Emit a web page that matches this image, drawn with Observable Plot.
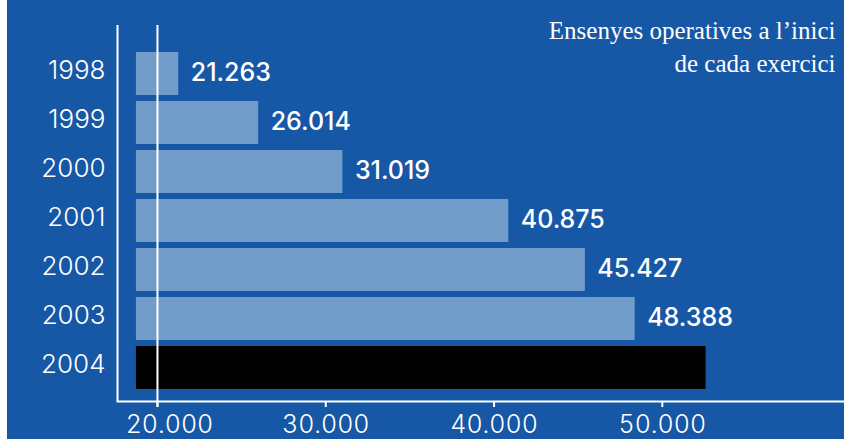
<!DOCTYPE html>
<html><head><meta charset="utf-8">
<script src="https://cdn.jsdelivr.net/npm/d3@7"></script>
<script src="https://cdn.jsdelivr.net/npm/@observablehq/plot@0.6"></script>
<style>
html,body{margin:0;padding:0;background:#fff;}
#chart{width:844px;height:439px;}
#chart svg{display:block;}
</style></head><body><div id="chart"></div>
<script>
const years = ["1998","1999","2000","2001","2002","2003","2004"];
const values = [21263, 26014, 31019, 40875, 45427, 48388, 52600];
const valueLabels = ["21.263","26.014","31.019","40.875","45.427","48.388",""];
const xTicks = [20000, 30000, 40000, 50000];
const highlightYear = "2004";
const barBase = 18750;
const axisMin = 17625;
const axisMax = 60826;
const titleText = "Ensenyes operatives a l’inici\nde cada exercici";

const data = years.map((y, i) => ({year: y, value: values[i], label: valueLabels[i]}));
const fmt = d => d3.format(",")(d).replace(/,/g, ".");
const firstTick = xTicks[0];

const chart = Plot.plot({
  width: 844, height: 439,
  marginLeft: 117, marginRight: 0, marginTop: 40, marginBottom: 38,
  style: {background: "linear-gradient(to right, #ffffff 0px, #ffffff 7px, #1758a6 7px)", color: "white", fontFamily: "Inter, sans-serif", fontSize: "25px", overflow: "visible"},
  x: {domain: [axisMin, axisMax]},
  y: {domain: years, paddingInner: 0.114, paddingOuter: 0.2, label: null},
  marks: [
    Plot.barX(data.filter(d => d.year !== highlightYear), {x1: () => barBase, x2: "value", y: "year", fill: "#729dca"}),
    Plot.barX(data.filter(d => d.year === highlightYear), {x1: () => barBase, x2: "value", y: "year", fill: "#000000"}),
    Plot.ruleX([axisMin], {stroke: "white", strokeWidth: 2, insetTop: -15}),
    Plot.ruleX([firstTick], {stroke: "white", strokeWidth: 2, insetTop: -15, insetBottom: -6}),
    Plot.frame({anchor: "bottom", stroke: "white", strokeWidth: 2}),
    Plot.axisX({ticks: xTicks, tickFormat: d => d === firstTick ? "" : fmt(d), tickSize: 6, tickPadding: 8, stroke: "white", strokeWidth: 2, fill: "white", fontSize: 25, fontWeight: 300, label: null}),
    Plot.axisX({ticks: [firstTick], tickFormat: fmt, tickSize: 0, tickPadding: 14, dx: 12, fill: "white", fontSize: 25, fontWeight: 300, label: null}),
    Plot.axisY({tickSize: 0, tickPadding: 12, fill: "white", fontSize: 26, fontWeight: 300, dy: -3, label: null}),
    Plot.text(data.filter(d => d.label), {x: "value", y: "year", text: "label", textAnchor: "start", dx: 12, dy: -1, fill: "white", fontSize: 25, fontWeight: 500}),
    Plot.text([titleText], {frameAnchor: "top-right", dx: -9, dy: -25, lineAnchor: "top", textAnchor: "end", fontFamily: "Liberation Serif", fontSize: 25, lineHeight: 1.33, fill: "white"})
  ]
});
document.getElementById("chart").append(chart);
</script></body></html>
